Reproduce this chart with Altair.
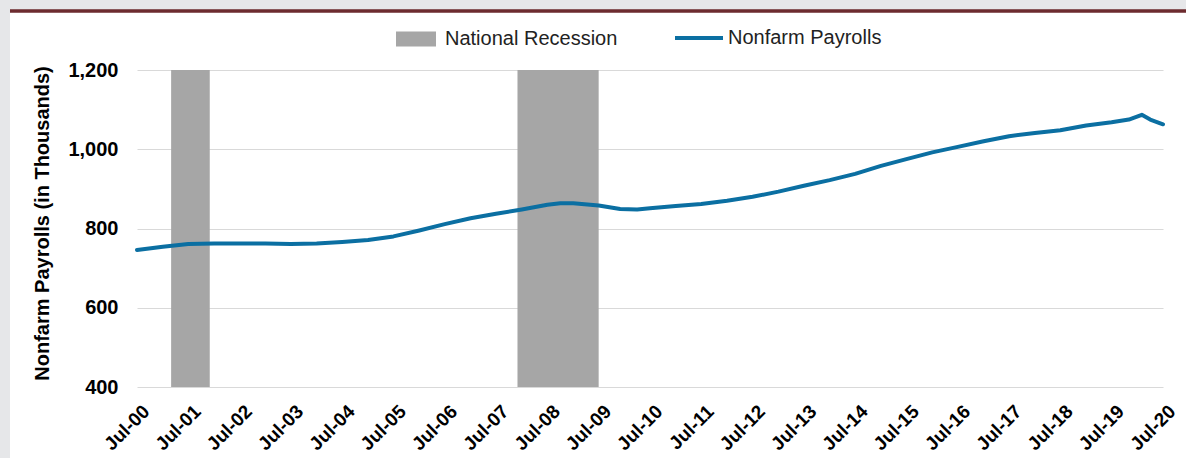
import altair as alt
import pandas as pd

# Nonfarm payrolls, thousands (readings at month starts)
months = [
    "2000-07", "2001-01", "2001-07", "2002-01", "2002-07", "2003-01", "2003-07",
    "2004-01", "2004-07", "2005-01", "2005-07", "2006-01", "2006-07", "2007-01",
    "2007-07", "2008-01", "2008-07", "2008-10", "2009-01", "2009-07", "2009-12",
    "2010-04", "2010-07", "2011-01", "2011-07", "2012-01", "2012-07", "2013-01",
    "2013-07", "2014-01", "2014-07", "2015-01", "2015-07", "2016-01", "2016-07",
    "2017-01", "2017-07", "2018-01", "2018-07", "2019-01", "2019-07", "2019-11",
    "2020-02", "2020-04", "2020-07",
]
payrolls = [
    746, 754, 761, 762, 762, 762, 761,
    762, 766, 771, 780, 795, 811, 826,
    837, 848, 860, 864, 864, 858, 849,
    848, 851, 857, 862, 870, 880, 893,
    908, 922, 938, 958, 975, 992, 1006,
    1020, 1033, 1041, 1048, 1060, 1068, 1075,
    1087, 1075, 1063,
]

# National recessions (start month, first month after the end)
rec_start = ["2001-03-01", "2007-12-01"]
rec_end = ["2001-12-01", "2009-07-01"]
rec_top = [1200, 1200]
rec_bottom = [400, 400]

tick_years = list(range(2000, 2021))
y_ticks = [400, 600, 800, 1000, 1200]

GRAY = "#a6a6a6"
BLUE = "#0b6fa2"
FRAME = "#e6e7e9"
FONT = "Liberation Sans"

payroll_df = pd.DataFrame({
    "date": pd.to_datetime([m + "-01" for m in months]),
    "value": payrolls,
    "series": "Nonfarm Payrolls",
})
rec_df = pd.DataFrame({
    "start": pd.to_datetime(rec_start),
    "end": pd.to_datetime(rec_end),
    "top": rec_top,
    "bottom": rec_bottom,
    "series": "National Recession",
})

x_scale = alt.Scale(domain=[alt.DateTime(year=2000, month=7, date=1),
                            alt.DateTime(year=2020, month=7, date=1)])
y_scale = alt.Scale(domain=[400, 1200])

legend_common = dict(
    title=None,
    orient="none",
    direction="horizontal",
    padding=0,
    symbolSize=1600,
    labelFont=FONT,
    labelFontSize=20,
    labelColor="#222222",
    labelLimit=400,
)

fill = alt.Fill(
    "series:N",
    scale=alt.Scale(domain=["National Recession"], range=[GRAY]),
    legend=alt.Legend(
        symbolType="M-1,-0.375H1V0.375H-1Z",
        symbolStrokeWidth=0,
        symbolOpacity=1,
        legendX=259,
        legendY=-51,
        labelOffset=9,
        **legend_common,
    ),
)

stroke = alt.Stroke(
    "series:N",
    scale=alt.Scale(domain=["Nonfarm Payrolls"], range=[BLUE]),
    legend=alt.Legend(
        symbolType="M-1.2,0H1.2",
        symbolStrokeWidth=4,
        symbolOpacity=1,
        legendX=540,
        legendY=-54,
        labelOffset=7,
        **legend_common,
    ),
)

x_axis = alt.Axis(
    title=None,
    values=[alt.DateTime(year=y, month=7, date=1) for y in tick_years],
    format="%b-%y",
    labelAngle=-45,
    labelAlign="right",
    labelBaseline="middle",
    labelFont=FONT,
    labelFontSize=19,
    labelFontWeight="bold",
    labelColor="#000000",
    labelPadding=21,
    labelOffset=9,
    labelOverlap=False,
    labelBound=False,
    labelFlush=False,
    ticks=False,
    tickSize=0,
    domain=False,
    grid=False,
)

y_axis = alt.Axis(
    title="Nonfarm Payrolls (in Thousands)",
    titleFont=FONT,
    titleFontSize=20,
    titleFontWeight="bold",
    titleColor="#000000",
    titleAngle=-90,
    titleX=-85,
    titleY=153,
    titleAlign="center",
    titleBaseline="bottom",
    values=y_ticks,
    format=",.0f",
    labelFont=FONT,
    labelFontSize=20,
    labelFontWeight="bold",
    labelColor="#000000",
    labelPadding=19,
    ticks=False,
    tickSize=0,
    domain=False,
    grid=True,
    gridColor="#d9d9d9",
    gridWidth=1,
)

# Light-gray frame strips along the top and left edge, with the maroon rule
frame_top = alt.Chart(rec_df).mark_rect(color=FRAME).encode(
    x=alt.value(-137), x2=alt.value(1049), y=alt.value(-70), y2=alt.value(-60)
)
frame_left = alt.Chart(rec_df).mark_rect(color=FRAME).encode(
    x=alt.value(-137), x2=alt.value(-127), y=alt.value(-70), y2=alt.value(388)
)
top_rule = alt.Chart(rec_df).mark_rule(color="#6d2b2f", strokeWidth=3).encode(
    x=alt.value(-127), x2=alt.value(1049), y=alt.value(-59)
)

recessions = alt.Chart(rec_df).mark_rect(opacity=1).encode(
    x=alt.X("start:T", scale=x_scale, axis=x_axis),
    x2="end:T",
    y=alt.Y("top:Q", scale=y_scale, axis=y_axis),
    y2="bottom:Q",
    fill=fill,
)

line = alt.Chart(payroll_df).mark_line(strokeWidth=4, strokeJoin="round",
                                        strokeCap="round").encode(
    x=alt.X("date:T", scale=x_scale, axis=x_axis),
    y=alt.Y("value:Q", scale=y_scale, axis=y_axis),
    stroke=stroke,
)

chart = alt.layer(frame_top, frame_left, top_rule, recessions, line).properties(
    width=1026,
    height=317,
    background="white",
    padding={"left": 137, "top": 70, "right": 23, "bottom": 71},
    autosize=alt.AutoSizeParams(type="none"),
).configure_view(stroke=None)

chart.save("out.html", embed_options={"renderer": "svg", "actions": False})
